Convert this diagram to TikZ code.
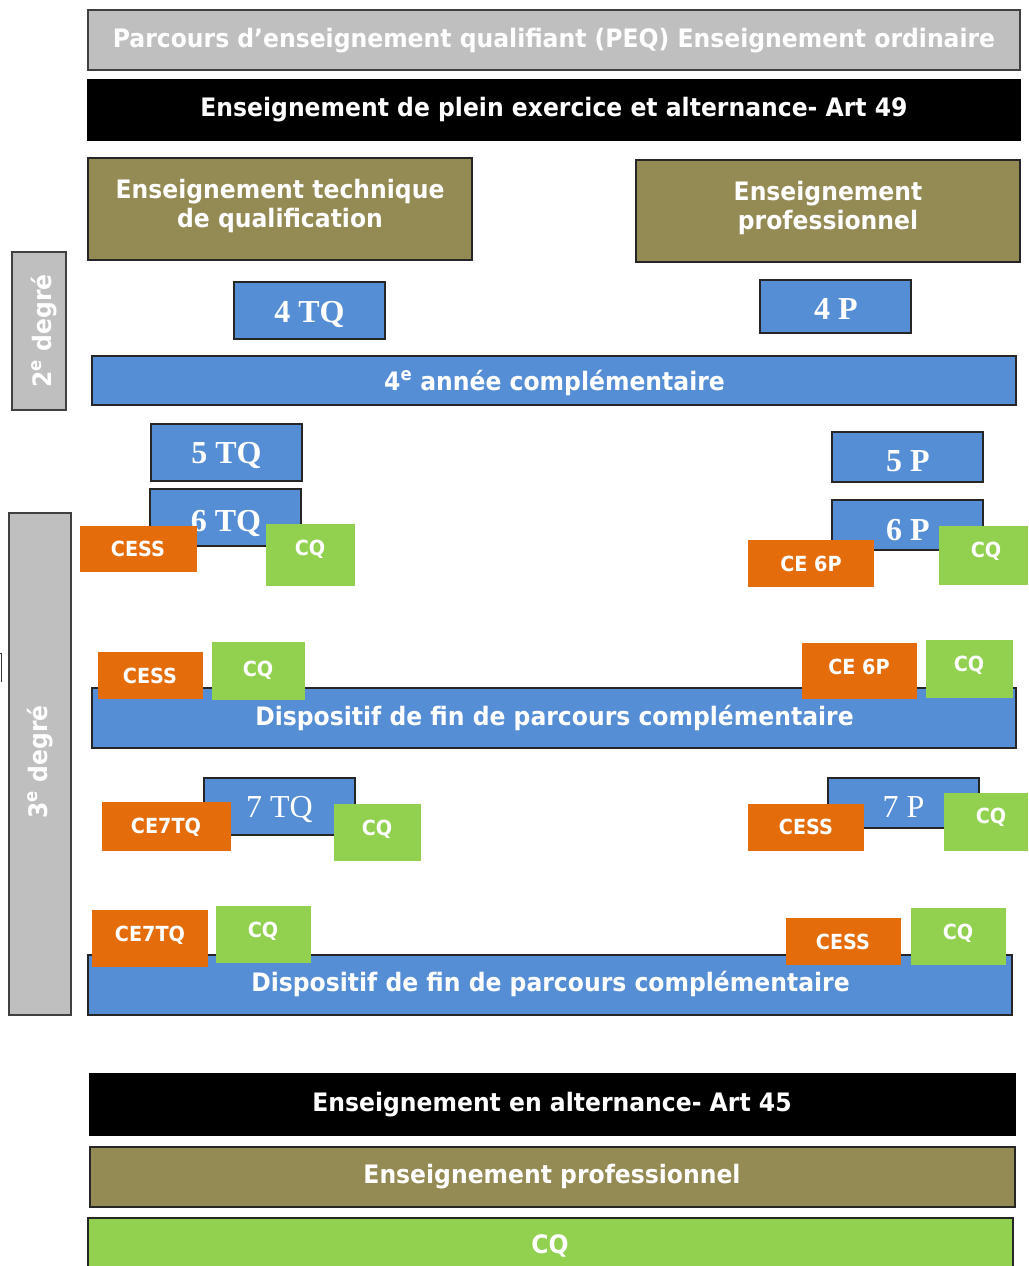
\documentclass[tikz,border=0pt]{standalone}
\usepackage{fontspec}
\setmainfont{DejaVu Sans}
\newfontfamily\serifb{Liberation Serif}
\usepackage{graphicx}
\definecolor{cgray}{HTML}{BFBFBF}
\definecolor{colive}{HTML}{948A54}
\definecolor{cblue}{HTML}{558ED5}
\definecolor{corange}{HTML}{E46C0A}
\definecolor{cgreen}{HTML}{92D050}
\newcommand\drawbox[6]{\node[#1, anchor=north west, minimum width={(#5-#3)*1pt}, minimum height={(#6-#4)*1pt}] (#2) at (#3,#4) {};}
\newcommand\hsq[1]{\scalebox{0.925}[1]{#1}}
\tikzset{
 bxbase/.style={rectangle, inner sep=0pt, outer sep=0pt, line width=1.3pt},
 grayb/.style={bxbase, fill=cgray, draw=black!75},
 blackb/.style={bxbase, fill=black, draw=black},
 oliveb/.style={bxbase, fill=colive, draw=black!85},
 blueb/.style={bxbase, fill=cblue, draw=black!85},
 orangeb/.style={bxbase, fill=corange},
 greenb/.style={bxbase, fill=cgreen},
 greenbd/.style={bxbase, fill=cgreen, draw=black!85},
 tl/.style={text=white, inner sep=0pt, anchor=base, font=\fontsize{25.4}{29}\selectfont\bfseries},
 ts/.style={tl, font=\fontsize{20.8}{24}\selectfont\bfseries},
 tserif/.style={text=white, inner sep=0pt, anchor=base, font=\fontsize{32}{36}\selectfont\serifb\bfseries},
 tserifr/.style={text=white, inner sep=0pt, anchor=base, font=\fontsize{32}{36}\selectfont\serifb},
}
\begin{document}
\begin{tikzpicture}[x=1pt,y=-1pt]
\useasboundingbox (0,0) rectangle (1028,1266);
\fill[white] (0,0) rectangle (1028,1266);
% headers
\drawbox{grayb}{peq}{88}{10}{1020}{70}
\node[tl] (peqt) at (554,47) {\hsq{Parcours d’enseignement qualifiant (PEQ) Enseignement ordinaire}};
\drawbox{blackb}{art49}{88}{80}{1020}{140}
\node[tl] (art49t) at (554,116) {\hsq{Enseignement de plein exercice et alternance- Art 49}};
\drawbox{oliveb}{etq}{88}{158}{472}{260}
\node[tl] (etqa) at (280,198) {\hsq{Enseignement technique}};
\node[tl] (etqb) at (280,227) {\hsq{de qualification}};
\drawbox{oliveb}{ep}{636}{160}{1020}{262}
\node[tl] (epa) at (828,200) {\hsq{Enseignement}};
\node[tl] (epb) at (828,229) {\hsq{professionnel}};
% degrees
\drawbox{grayb}{deg2}{12}{252}{66}{410}
\node[tl, rotate=90] (deg2t) at (51,331) {\hsq{2\textsuperscript{e} degré}};
\drawbox{grayb}{deg3}{9}{513}{71}{1015}
\node[tl, rotate=90] (deg3t) at (47,762) {\hsq{3\textsuperscript{e} degré}};
\draw[line width=1.3pt, black!80] (0,653.5) -- (1.2,653.5) -- (1.2,682);
% 4th year
\drawbox{blueb}{tq4}{234}{282}{385}{339}
\node[tserif] (tq4t) at (309.5,322) {4 TQ};
\drawbox{blueb}{p4}{760}{280}{911}{333}
\node[tserif] (p4t) at (836,319) {4 P};
\drawbox{blueb}{an4}{92}{356}{1016}{405}
\node[tl] (an4t) at (554.5,390) {\hsq{4\textsuperscript{e} année complémentaire}};
% 5/6 TQ
\drawbox{blueb}{tq5}{151}{424}{302}{481}
\node[tserif] (tq5t) at (226.5,463) {5 TQ};
\drawbox{blueb}{tq6}{150}{489}{301}{546}
\node[tserif] (tq6t) at (226,531) {6 TQ};
\drawbox{orangeb}{cessA}{80}{526}{197}{572}
\node[ts] (cessAt) at (138,556) {\hsq{CESS}};
\drawbox{greenb}{cqA}{266}{524}{355}{586}
\node[ts] (cqAt) at (310,555) {\hsq{CQ}};
% 5/6 P
\drawbox{blueb}{p5}{832}{432}{983}{482}
\node[tserif] (p5t) at (908,471) {5 P};
\drawbox{blueb}{p6}{832}{500}{983}{550}
\node[tserif] (p6t) at (908,540) {6 P};
\drawbox{orangeb}{ce6A}{748}{540}{874}{587}
\node[ts] (ce6At) at (811,571) {\hsq{CE 6P}};
\drawbox{greenb}{cqB}{939}{526}{1028}{585}
\node[ts] (cqBt) at (986,557) {\hsq{CQ}};
% Dispositif 1
\drawbox{blueb}{disp1}{92}{688}{1016}{748}
\node[tl] (disp1t) at (554.5,725) {\hsq{Dispositif de fin de parcours complémentaire}};
\drawbox{orangeb}{cessB}{98}{652}{203}{699}
\node[ts] (cessBt) at (150,683) {\hsq{CESS}};
\drawbox{greenb}{cqC}{212}{642}{305}{700}
\node[ts] (cqCt) at (258,676) {\hsq{CQ}};
\drawbox{orangeb}{ce6B}{802}{643}{917}{699}
\node[ts] (ce6Bt) at (859,674) {\hsq{CE 6P}};
\drawbox{greenb}{cqD}{926}{640}{1013}{698}
\node[ts] (cqDt) at (969,671) {\hsq{CQ}};
% 7th year
\drawbox{blueb}{tq7}{204}{778}{355}{835}
\node[tserifr] (tq7t) at (279.5,817) {7 TQ};
\drawbox{orangeb}{ce7A}{102}{802}{231}{851}
\node[ts] (ce7At) at (166,833) {\hsq{CE7TQ}};
\drawbox{greenb}{cqE}{334}{804}{421}{861}
\node[ts] (cqEt) at (377,835) {\hsq{CQ}};
\drawbox{blueb}{p7}{828}{778}{979}{828}
\node[tserifr] (p7t) at (903.5,817) {7 P};
\drawbox{orangeb}{cessC}{748}{804}{864}{851}
\node[ts] (cessCt) at (806,834) {\hsq{CESS}};
\drawbox{greenb}{cqF}{944}{793}{1028}{851}
\node[ts] (cqFt) at (991,823) {\hsq{CQ}};
% Dispositif 2
\drawbox{blueb}{disp2}{88}{955}{1012}{1015}
\node[tl] (disp2t) at (550.5,991) {\hsq{Dispositif de fin de parcours complémentaire}};
\drawbox{orangeb}{ce7B}{92}{910}{208}{967}
\node[ts] (ce7Bt) at (150,941) {\hsq{CE7TQ}};
\drawbox{greenb}{cqG}{216}{906}{311}{963}
\node[ts] (cqGt) at (263,937) {\hsq{CQ}};
\drawbox{orangeb}{cessD}{786}{918}{901}{965}
\node[ts] (cessDt) at (843,949) {\hsq{CESS}};
\drawbox{greenb}{cqH}{911}{908}{1006}{965}
\node[ts] (cqHt) at (958,939) {\hsq{CQ}};
% bottom
\drawbox{blackb}{art45}{90}{1074}{1015}{1135}
\node[tl] (art45t) at (552,1111) {\hsq{Enseignement en alternance- Art 45}};
\drawbox{oliveb}{epb2}{90}{1147}{1015}{1207}
\node[tl] (epb2t) at (552,1183) {\hsq{Enseignement professionnel}};
\drawbox{greenbd}{cqbot}{88}{1218}{1013}{1280}
\node[tl] (cqbott) at (550,1253) {\hsq{CQ}};
\end{tikzpicture}
\end{document}
